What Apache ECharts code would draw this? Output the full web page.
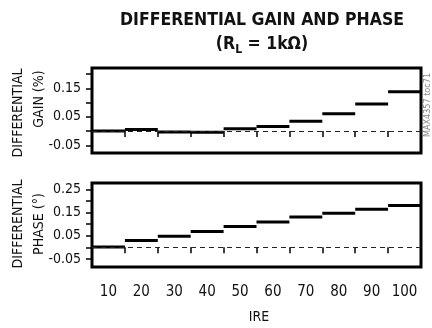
<!DOCTYPE html>
<html>
<head>
<meta charset="utf-8">
<script src="https://cdn.jsdelivr.net/npm/echarts@6/dist/echarts.min.js"></script>
<style>
html,body{margin:0;padding:0;background:#fff;}
#c{width:432px;height:328px;}
</style>
</head>
<body>
<div id="c"></div>
<script>
var categories = ['10','20','30','40','50','60','70','80','90','100'];
var gainValues = [0.000, 0.005, -0.003, -0.004, 0.008, 0.016, 0.034, 0.061, 0.095, 0.138];
var phaseValues = [0.001, 0.029, 0.048, 0.068, 0.090, 0.110, 0.131, 0.147, 0.165, 0.181];
var gainTicks = [-0.05, 0, 0.05, 0.1, 0.15, 0.2];
var gainLabels = [-0.05, 0.05, 0.15];
var phaseTicks = [-0.05, 0, 0.05, 0.1, 0.15, 0.2, 0.25];
var phaseLabels = [-0.05, 0.05, 0.15, 0.25];

var FONT = '"DejaVu Sans Condensed", "Liberation Sans", sans-serif';

function stepData(vals){ return vals.map(function(v,i){ return [i, v]; }); }

function renderStep(params, api){
  var c = api.coord([api.value(0), api.value(1)]);
  var w = api.size([1, 0])[0];
  return {
    type: 'line',
    shape: {x1: c[0] - w/2, y1: c[1], x2: c[0] + w/2, y2: c[1]},
    style: {stroke: '#000', lineWidth: 3}
  };
}

function yAxis(idx, min, max, ticks, labels){
  return {
    type: 'value', gridIndex: idx, min: min, max: max,
    axisLine: {show: false},
    splitLine: {show: false},
    axisTick: {show: true, customValues: ticks, length: 6, lineStyle: {color: '#000', width: 1.5}},
    axisLabel: {show: true, customValues: labels, margin: 11, color: '#111', fontSize: 14, fontFamily: FONT,
      formatter: function(v){ return (Math.round(v*100)/100).toFixed(2); }}
  };
}

function xAxis(idx, showLabels){
  return {
    type: 'category', gridIndex: idx, data: categories, boundaryGap: true,
    axisLine: {show: false},
    splitLine: {show: false},
    axisTick: {show: true, interval: 0, alignWithLabel: false, length: 6, lineStyle: {color: '#000', width: 1.5}},
    axisLabel: {show: showLabels, interval: 0, margin: 18, color: '#111', fontSize: 15, fontFamily: FONT}
  };
}

var zeroLine = {
  silent: true, symbol: 'none', label: {show: false},
  lineStyle: {type: [5, 4], color: '#222', width: 1},
  data: [{yAxis: 0}]
};

var chart = echarts.init(document.getElementById('c'), null, {renderer: 'canvas'});
chart.setOption({
  animation: false,
  backgroundColor: '#fff',
  title: {
    text: 'DIFFERENTIAL GAIN AND PHASE\n(R{sub|L} = 1kΩ)',
    left: 257, top: 3, textAlign: 'center',
    textStyle: {
      fontFamily: FONT, fontSize: 17.5, fontWeight: 'bold', color: '#111', lineHeight: 24,
      rich: {sub: {fontFamily: FONT, fontSize: 12, fontWeight: 'bold', color: '#111', verticalAlign: 'bottom', lineHeight: 18, padding: [7, 0, 0, 0]}}
    }
  },
  grid: [
    {left: 92, top: 68, width: 329, height: 85, show: true, borderColor: '#000', borderWidth: 3, backgroundColor: 'transparent'},
    {left: 92, top: 183, width: 329, height: 84, show: true, borderColor: '#000', borderWidth: 3, backgroundColor: 'transparent'}
  ],
  xAxis: [xAxis(0, false), xAxis(1, true)],
  yAxis: [
    yAxis(0, -0.077, 0.221, gainTicks, gainLabels),
    yAxis(1, -0.085, 0.278, phaseTicks, phaseLabels)
  ],
  series: [
    {type: 'custom', xAxisIndex: 0, yAxisIndex: 0, data: stepData(gainValues), renderItem: renderStep, markLine: zeroLine, clip: false},
    {type: 'custom', xAxisIndex: 1, yAxisIndex: 1, data: stepData(phaseValues), renderItem: renderStep, markLine: zeroLine, clip: false}
  ],
  graphic: [
    {type: 'text', x: 18, y: 113, rotation: Math.PI/2, style: {text: 'DIFFERENTIAL', font: '14px ' + FONT, fill: '#111', align: 'center', verticalAlign: 'middle'}},
    {type: 'text', x: 39, y: 99, rotation: Math.PI/2, style: {text: 'GAIN (%)', font: '14px ' + FONT, fill: '#111', align: 'center', verticalAlign: 'middle'}},
    {type: 'text', x: 18, y: 224, rotation: Math.PI/2, style: {text: 'DIFFERENTIAL', font: '14px ' + FONT, fill: '#111', align: 'center', verticalAlign: 'middle'}},
    {type: 'text', x: 39, y: 224, rotation: Math.PI/2, style: {text: 'PHASE (°)', font: '14px ' + FONT, fill: '#111', align: 'center', verticalAlign: 'middle'}},
    {type: 'text', x: 259, y: 317, style: {text: 'IRE', font: '14px ' + FONT, fill: '#111', align: 'center', verticalAlign: 'middle'}},
    {type: 'text', x: 428, y: 105, rotation: Math.PI/2, style: {text: 'MAX4357 toc71', font: '9px ' + FONT, fill: '#888', align: 'center', verticalAlign: 'middle'}}
  ]
});
</script>
</body>
</html>
